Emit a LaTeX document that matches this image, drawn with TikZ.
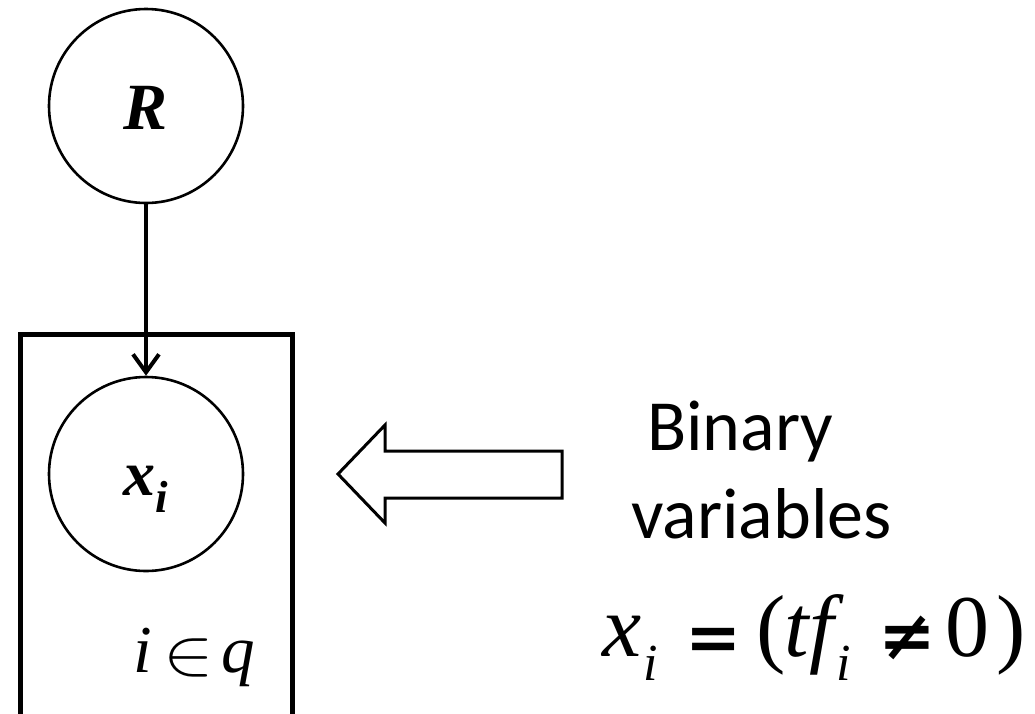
\RequirePackage{fix-cm}
\documentclass[tikz,border=0pt]{standalone}
\usepackage{fontspec}
\usepackage{graphicx}
\setmainfont{Liberation Serif}
\newfontfamily\calfont{Carlito}
\newfontfamily\djs{DejaVu Serif}
\usetikzlibrary{arrows.meta}
\newcommand{\putat}[3][0pt]{\rlap{\hspace*{#2pt}\raisebox{#1}{#3}}}
\tikzset{
  var/.style={circle, draw, line width=2.6pt, minimum size=194pt, inner sep=0pt, fill=white},
  plate/.style={draw, line width=4.5pt, minimum width=272pt, minimum height=382pt, inner sep=0pt, anchor=north west},
  link/.style={line width=4pt, -{Straight Barb[length=18pt,width=26pt,line width=4pt]}},
  block/.style={draw, line width=3pt, line join=miter, fill=white},
  txt/.style={inner sep=0pt, anchor=base west},
}
\begin{document}
\begin{tikzpicture}[x=1pt,y=-1pt]
\useasboundingbox (0,0) rectangle (1035,713);
\clip (0,0) rectangle (1035,713);
% plate
\node[plate] (P) at (18,332) {};
% variables
\node[var] (R) at (146,106) {\raisebox{-23pt}[0pt][0pt]{\fontsize{66}{66}\selectfont\bfseries\itshape R}};
\node[var] (X) at (146,474) {\raisebox{-21pt}[0pt][0pt]{\fontsize{64}{64}\selectfont\bfseries\itshape x\raisebox{-17pt}{\fontsize{45}{45}\selectfont i}}};
\draw[link] (R) -- (X);
% plate label
\node[txt] (Q) at (130,672) {\fontsize{67}{67}\selectfont
  \putat{3}{\itshape i}%
  \putat[-2pt]{33}{\scalebox{1.2}[1.05]{\fontsize{63}{63}\selectfont$\in$}}%
  \putat{91}{\itshape q}};
% block arrow
\coordinate (T) at (338,474);
\draw[block] (T) -- (385,425) -- (385,451) -- (562,451) -- (562,498) -- (385,498) -- (385,523) -- cycle;
% text
\node[txt] (B1) at (647,450) {\fontsize{72}{88}\selectfont\calfont Binary};
\node[txt] (B2) at (631,538) {\fontsize{72}{88}\selectfont\calfont variables};
% formula
\node[txt] (F) at (600,656) {\fontsize{88}{88}\selectfont
  \putat{2}{\itshape x}%
  \putat[-24pt]{43}{\fontsize{52}{52}\selectfont\itshape i}%
  \putat[-4pt]{85}{\fontsize{67}{67}\selectfont\djs\bfseries =}%
  \putat{156}{(}%
  \putat{184}{\itshape tf}%
  \putat[-24pt]{236}{\fontsize{52}{52}\selectfont\itshape i}%
  \putat[-3pt]{278}{\fontsize{69}{69}\selectfont\djs\bfseries ≠}%
  \putat{345}{0}%
  \putat{396}{)}};
\end{tikzpicture}
\end{document}
